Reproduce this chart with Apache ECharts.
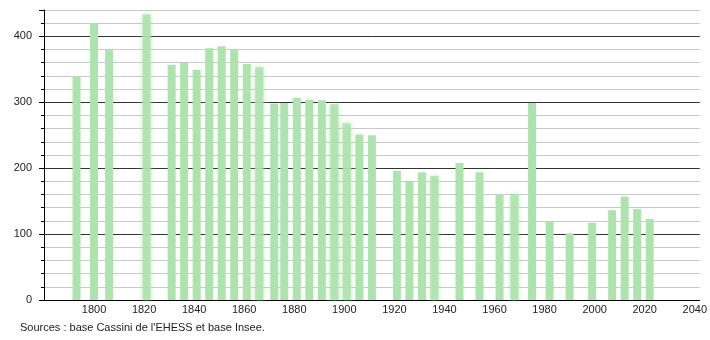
<!DOCTYPE html>
<html>
<head>
<meta charset="utf-8">
<script src="https://cdn.jsdelivr.net/npm/echarts@6/dist/echarts.min.js"></script>
<style>
html,body{margin:0;padding:0;background:#fff;}
#chart{width:710px;height:340px;}
</style>
</head>
<body>
<div id="chart"></div>
<script>
const years = [1793,1800,1806,1821,1831,1836,1841,1846,1851,1856,1861,1866,1872,1876,1881,1886,1891,1896,1901,1906,1911,1921,1926,1931,1936,1946,1954,1962,1968,1975,1982,1990,1999,2007,2012,2017,2022];
const population = [339,420,380,433,357,360,349,382,385,380,358,353,298,299,307,304,303,297,268,251,250,196,179,194,188,208,194,160,161,299,120,101,117,136,157,138,123];
const sourceText = "Sources : base Cassini de l'EHESS et base Insee.";

const FONT = '"Liberation Sans", Arial, sans-serif';
const BAR = '#ade3ad';
// bars that look soft-edged in the reference (style only)
const softYears = new Set([1821, 1866, 1896, 1901, 1936, 1968]);

const chart = echarts.init(document.getElementById('chart'), null, {renderer: 'canvas'});
const data = years.map((y, i) => {
  const item = {value: [y, population[i]]};
  if (softYears.has(y)) {
    item.itemStyle = {color: 'rgba(173,227,173,0.85)', shadowBlur: 5, shadowColor: 'rgba(173,227,173,0.9)'};
  }
  return item;
});

chart.setOption({
  animation: false,
  backgroundColor: '#fff',
  grid: {left: 44, right: 9, top: 10, bottom: 40, containLabel: false},
  xAxis: {
    type: 'value', min: 1780, max: 2042, interval: 20,
    axisLine: {show: true, onZero: false, lineStyle: {color: '#000', width: 1}},
    axisTick: {show: false},
    splitLine: {show: false},
    showMinLabel: false, showMaxLabel: false,
    axisLabel: {
      margin: 4, fontSize: 11, color: '#222', fontFamily: FONT,
      formatter: v => (v % 20 === 0 && v > 1780) ? String(v) : ''
    }
  },
  yAxis: [{
    type: 'value', min: 0, max: 440, interval: 20,
    axisLine: {show: true, lineStyle: {color: '#000', width: 1}},
    axisTick: {show: true, length: 3, lineStyle: {color: '#000'}},
    splitLine: {show: true, lineStyle: {color: ['#333', '#c8c8c8', '#c8c8c8', '#c8c8c8', '#c8c8c8'], width: 1}},
    axisLabel: {
      margin: 12, fontSize: 11, color: '#222', fontFamily: FONT,
      formatter: v => (v % 100 === 0) ? String(v) : ''
    }
  }, {
    type: 'value', min: 0, max: 440, interval: 100, position: 'left',
    axisLine: {show: false},
    axisTick: {show: true, length: 5, lineStyle: {color: '#000'}},
    splitLine: {show: false},
    axisLabel: {show: false}
  }],
  series: [{
    type: 'bar',
    yAxisIndex: 0,
    data: data,
    barWidth: 8,
    itemStyle: {color: BAR},
    z: 1
  }],
  graphic: [{
    type: 'text', left: 20, top: 322,
    style: {text: sourceText, font: '11px ' + FONT, fill: '#222'}
  }]
});
</script>
</body>
</html>
